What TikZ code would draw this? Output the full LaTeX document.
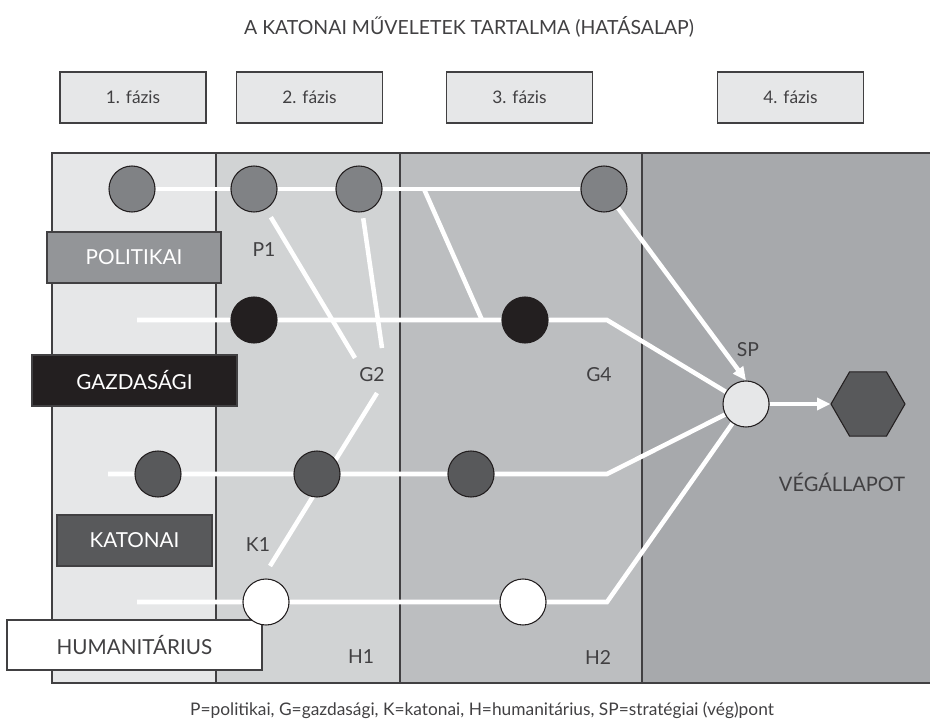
\documentclass[tikz,border=0pt]{standalone}
\usepackage{fontspec}
\setmainfont{Lato}
\usetikzlibrary{arrows.meta,shapes.geometric,positioning}

\definecolor{ink}{HTML}{414042}
\definecolor{phaseA}{HTML}{E6E7E8}
\definecolor{phaseB}{HTML}{D1D3D4}
\definecolor{phaseC}{HTML}{BCBEC0}
\definecolor{phaseD}{HTML}{A7A9AC}
\definecolor{polgrey}{HTML}{808285}
\definecolor{polbox}{HTML}{939598}
\definecolor{gazd}{HTML}{231F20}
\definecolor{kat}{HTML}{58595B}

\pgfdeclarelayer{back}
\pgfdeclarelayer{lines}
\pgfsetlayers{back,lines,main}

\tikzset{
	dot/.style={circle, draw=gazd, line width=0.8pt, minimum size=34.5pt, inner sep=0pt},
	pdot/.style={dot, fill=polgrey},
	gdot/.style={dot, fill=gazd},
	kdot/.style={dot, fill=kat},
	hdot/.style={dot, fill=white},
	flow/.style={draw=white, line width=3.4pt},
	tag/.style={text=ink, inner sep=0pt, font=\fontsize{14.5}{16}\selectfont},
	phasebox/.style={draw=ink, fill=phaseA, line width=0.8pt, minimum width=109.5pt,
		minimum height=38.25pt, inner sep=0pt, text=ink, font=\fontsize{13}{15}\selectfont},
	sector/.style={draw=ink, line width=0.8pt, minimum height=38.25pt, inner sep=0pt,
		text=white, font=\fontsize{15.5}{17}\selectfont}
}

\begin{document}
\begin{tikzpicture}[x=0.75pt, y=-0.75pt]
	\useasboundingbox (0,0) rectangle (930,724);

	% title and phases
	\node[tag, font=\fontsize{14.6}{17}\selectfont] (title) at (469,27) {A KATONAI MŰVELETEK TARTALMA (HATÁSALAP)};
	\node[phasebox] (ph1) at (133,97.5) {1. fázis};
	\node[phasebox] (ph2) at (309.5,97.5) {2. fázis};
	\node[phasebox] (ph3) at (519.5,97.5) {3. fázis};
	\node[phasebox] (ph4) at (790.5,97.5) {4. fázis};

	% columns
	\begin{pgfonlayer}{back}
		\fill[phaseA] (52,153) rectangle (216,683);
		\fill[phaseB] (216,153) rectangle (400,683);
		\fill[phaseC] (400,153) rectangle (642,683);
		\fill[phaseD] (642,153) rectangle (935,683);
		\draw[ink, line width=0.9pt] (935,153) -- (52,153) -- (52,683) -- (935,683);
		\draw[ink, line width=0.9pt] (216,153) -- (216,683);
		\draw[ink, line width=0.9pt] (400,153) -- (400,683);
		\draw[ink, line width=0.9pt] (642,153) -- (642,683);
	\end{pgfonlayer}

	% sector boxes
	\node[sector, fill=polbox, minimum width=130.5pt] (pol) at (134,257.5) {POLITIKAI};
	\node[sector, fill=gazd, minimum width=153.75pt] (gaz) at (134.5,380.5) {GAZDASÁGI};
	\node[sector, fill=kat, minimum width=116.25pt] (kato) at (134.5,540.5) {KATONAI};
	\node[sector, fill=white, text=ink, minimum width=191.25pt, minimum height=37.5pt] (hum) at (134.5,645) {HUMANITÁRIUS};

	% points
	\node[pdot] (P0) at (132,189) {};
	\node[pdot] (P1) at (254,189) {};
	\node[pdot] (P2) at (359,189) {};
	\node[pdot] (P3) at (604,189) {};
	\node[gdot] (G1) at (254,320) {};
	\node[gdot] (G3) at (525,320) {};
	\node[kdot] (K0) at (158,474) {};
	\node[kdot] (K1) at (317,474) {};
	\node[kdot] (K2) at (471,474) {};
	\node[hdot] (H1) at (266,602) {};
	\node[hdot] (H2) at (523,602) {};
	\node[dot, fill=phaseA] (SP) at (746,404) {};
	\node[regular polygon, regular polygon sides=6, minimum size=55.5pt, inner sep=0pt,
		draw=gazd, line width=0.8pt, fill=kat] (end) at (868,404) {};

	% labels
	\node[tag] (lP1) at (264,250) {P1};
	\node[tag] (lG2) at (372,375) {G2};
	\node[tag] (lG4) at (599,375) {G4};
	\node[tag] (lK1) at (258,545) {K1};
	\node[tag] (lH1) at (361,657) {H1};
	\node[tag] (lH2) at (598,657) {H2};
	\node[tag] (lSP) at (748,350) {SP};
	\node[tag, font=\fontsize{15}{17}\selectfont] (lend) at (842,482) {VÉGÁLLAPOT};
	\node[tag, font=\fontsize{13}{15}\selectfont] (legend) at (482,710)
		{P=politikai, G=gazdasági, K=katonai, H=humanitárius, SP=stratégiai (vég)pont};

	% line ends and bends
	\coordinate (gs) at (137,320);
	\coordinate (ks) at (108,474);
	\coordinate (hs) at (137,602);
	\coordinate (pj) at (424,189);
	\coordinate (gj) at (482,320);
	\coordinate (gb) at (607,320);
	\coordinate (kb) at (607,474);
	\coordinate (hb) at (607,602);
	\coordinate (g2a) at (355,358);
	\coordinate (g2b) at (382,348);
	\coordinate (g2c) at (377,393);
	\coordinate (k1a) at (270,566);

	\begin{pgfonlayer}{lines}
		\draw[flow] (P0) -- (P1) -- (P2) -- (P3);
		\draw[flow] (pj) -- (gj);
		\draw[flow] (gs) -- (G1) -- (G3) -- (gb) -- (SP);
		\draw[flow] (ks) -- (K0) -- (K1) -- (K2) -- (kb) -- (SP);
		\draw[flow] (hs) -- (H1) -- (H2) -- (hb) -- (SP);
		\draw[flow, shorten <=7pt] (P1) -- (g2a);
		\draw[flow, shorten <=4.5pt] (P2) -- (g2b);
		\draw[flow] (g2c) -- (k1a);
		\draw[flow, -{Triangle[length=10pt, width=9pt]}, white] (P3) -- (SP.north);
		\draw[flow, -{Triangle[length=10pt, width=9pt]}, white] (SP) -- (end);
	\end{pgfonlayer}
\end{tikzpicture}
\end{document}
